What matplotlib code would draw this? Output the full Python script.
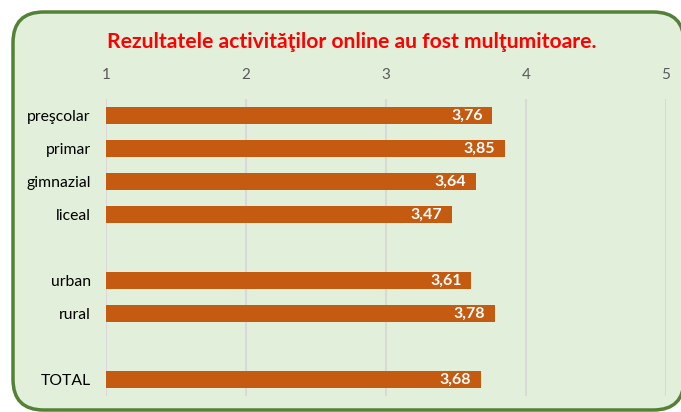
import matplotlib
matplotlib.use("Agg")
import matplotlib.pyplot as plt
from matplotlib.patches import FancyBboxPatch

# data
categories = ["preşcolar", "primar", "gimnazial", "liceal", "", "urban", "rural", "", "TOTAL"]
values = [3.76, 3.85, 3.64, 3.47, None, 3.61, 3.78, None, 3.68]
ticks = [1, 2, 3, 4, 5]
title = "Rezultatele activităţilor online au fost mulţumitoare."

plt.rcParams['font.family'] = ['Lato', 'DejaVu Sans']

W, H = 681, 412
fig = plt.figure(figsize=(W / 100, H / 100), dpi=100)
fig.patch.set_facecolor("white")

# rounded green panel (right side runs off the image)
box = FancyBboxPatch((13 / W, 2 / H), (684 - 13) / W, (400 - 2) / H,
                     boxstyle="round,pad=0,rounding_size=0.045",
                     transform=fig.transFigure, facecolor="#E2EFDA",
                     edgecolor="#538135", linewidth=2.5, mutation_aspect=W / H,
                     zorder=-5)
fig.patches.append(box)

ax = fig.add_axes([106 / W, 16 / H, 560 / W, 297 / H])
ax.set_facecolor("none")

ypos = list(range(len(categories)))
for y, v in zip(ypos, values):
    if v is None:
        continue
    ax.barh(y, v - 1, left=1, height=0.5, color="#C55A11", zorder=3)
    ax.text(v - 0.07, y, f"{v:.2f}".replace(".", ","), ha="right", va="center",
            color="white", fontsize=11.5, fontweight="bold", zorder=4)

ax.set_xlim(1, 5)
ax.set_ylim(len(categories) - 0.5, -0.5)
ax.set_xticks(ticks)
ax.set_xticklabels([str(t) for t in ticks])
ax.xaxis.tick_top()
ax.tick_params(axis="x", length=0, pad=12, labelsize=11, labelcolor="#595959")
ax.set_yticks(ypos)
ax.set_yticklabels(categories)
ax.tick_params(axis="y", length=0, pad=11, labelsize=11.3, labelcolor="black")
ax.grid(axis="x", color="#D9D9D9", linewidth=1.5, zorder=0)
for s in ax.spines.values():
    s.set_visible(False)

fig.text(352 / W, 1 - 42 / H, title, ha="center", va="center",
         color="#FF0000", fontsize=15.2, fontweight="bold")

fig.savefig("out.png", dpi=100, facecolor="white")
